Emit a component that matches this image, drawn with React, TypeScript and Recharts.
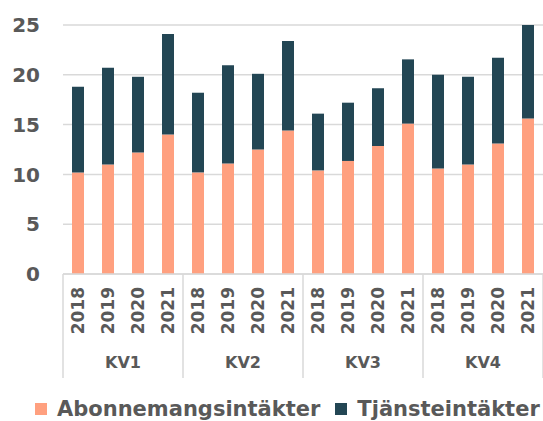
import { BarChart, Bar, XAxis, YAxis, CartesianGrid, Legend } from 'recharts';

const quarters = ['KV1', 'KV2', 'KV3', 'KV4'];
const years = ['2018', '2019', '2020', '2021'];
const abonnemang = [10.2, 11.0, 12.2, 14.0, 10.2, 11.1, 12.5, 14.4, 10.4, 11.35, 12.85, 15.1, 10.6, 11.0, 13.1, 15.6];
const tjanst = [8.6, 9.7, 7.6, 10.1, 8.0, 9.85, 7.6, 9.0, 5.7, 5.85, 5.8, 6.45, 9.4, 8.8, 8.6, 9.4];
const yTicks = [0, 5, 10, 15, 20, 25];

const ORANGE = '#ffa07f';
const DARK = '#234654';
const TEXT = '#595959';
const GRID = '#d9d9d9';
const FONT = '"DejaVu Sans", sans-serif';

const rows = abonnemang.map((a, i) => ({
  key: `${quarters[Math.floor(i / 4)]}-${years[i % 4]}`,
  year: years[i % 4],
  quarter: quarters[Math.floor(i / 4)],
  Abonnemangsintäkter: a,
  Tjänsteintäkter: tjanst[i],
}));

const W = 543;
const H = 421;
const Y_W = 63;
const SLOT = (W - Y_W) / rows.length;

function YearTick(props: any) {
  const { x, y, payload } = props;
  const i = payload.index ?? props.index;
  const row = rows[i];
  return (
    <g>
      <text
        transform={`translate(${x},${y + 13}) rotate(-90)`}
        textAnchor="end"
        dominantBaseline="central"
        fontFamily={FONT}
        fontWeight="bold"
        fontSize={17}
        fill={TEXT}
      >
        {row.year}
      </text>
      {i % 4 === 0 && (
        <line x1={x - SLOT / 2} x2={x - SLOT / 2} y1={y} y2={y + 104} stroke={GRID} strokeWidth={1.5} />
      )}
      {i === rows.length - 1 && (
        <line x1={x + SLOT / 2} x2={x + SLOT / 2} y1={y} y2={y + 104} stroke={GRID} strokeWidth={1.5} />
      )}
      {i % 4 === 1 && (
        <text
          x={x + SLOT / 2}
          y={y + 88}
          textAnchor="middle"
          dominantBaseline="central"
          fontFamily={FONT}
          fontWeight="bold"
          fontSize={16}
          fill={TEXT}
        >
          {row.quarter}
        </text>
      )}
    </g>
  );
}

function renderLegend() {
  const items = [
    { label: 'Abonnemangsintäkter', color: ORANGE },
    { label: 'Tjänsteintäkter', color: DARK },
  ];
  return (
    <div
      style={{
        display: 'flex',
        alignItems: 'center',
        height: 24,
        paddingLeft: 35,
        fontFamily: FONT,
        fontWeight: 'bold',
        fontSize: 21,
        color: TEXT,
      }}
    >
      {items.map((it) => (
        <div key={it.label} style={{ display: 'flex', alignItems: 'center', marginRight: 15 }}>
          <span style={{ width: 12, height: 12, background: it.color, marginRight: 10, display: 'inline-block' }} />
          <span>{it.label}</span>
        </div>
      ))}
    </div>
  );
}

export default function App() {
  return (
    <div style={{ position: 'absolute', left: 0, top: 0, width: W, height: H, background: '#fff' }}>
      <BarChart width={W} height={H} data={rows} margin={{ top: 25, right: 0, bottom: 0, left: 0 }} barSize={12}>
        <CartesianGrid vertical={false} stroke={GRID} strokeWidth={1.5} />
        <XAxis
          dataKey="key"
          height={123}
          interval={0}
          tickLine={false}
          tickSize={0}
          tickMargin={0}
          axisLine={{ stroke: GRID, strokeWidth: 1.5 }}
          tick={<YearTick />}
        />
        <YAxis
          width={Y_W}
          domain={[0, 25]}
          ticks={yTicks}
          allowDataOverflow
          axisLine={false}
          tickLine={false}
          tickMargin={17}
          tick={{ fontFamily: FONT, fontWeight: 'bold', fontSize: 20, fill: TEXT }}
        />
        <Legend verticalAlign="bottom" content={renderLegend} wrapperStyle={{ left: 0, width: W }} />
        <Bar dataKey="Abonnemangsintäkter" stackId="a" fill={ORANGE} isAnimationActive={false} />
        <Bar dataKey="Tjänsteintäkter" stackId="a" fill={DARK} isAnimationActive={false} />
      </BarChart>
    </div>
  );
}
